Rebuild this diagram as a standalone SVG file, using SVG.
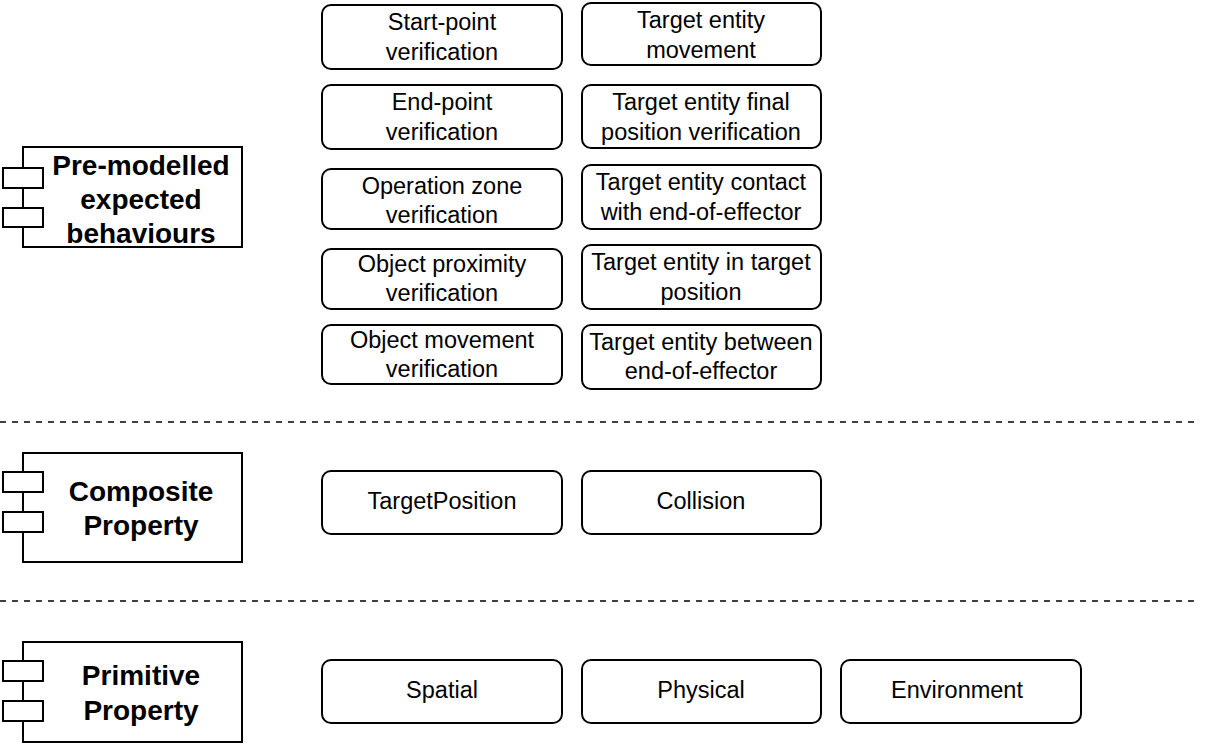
<svg xmlns="http://www.w3.org/2000/svg" width="1206" height="748" viewBox="0 0 1206 748">
<style>
.n{fill:#fff;stroke:#000;stroke-width:2}
.c{fill:#fff;stroke:#000;stroke-width:2}
.t{font-family:"Liberation Sans",Arial,sans-serif;font-size:23.5px;text-anchor:middle;fill:#000}
.b{font-family:"Liberation Sans",Arial,sans-serif;font-size:28px;font-weight:bold;text-anchor:middle;fill:#000}
.d{stroke:#000;stroke-width:1.5;stroke-dasharray:6 6;fill:none}
</style>
<rect width="1206" height="748" fill="#fff"/>
<g id="separators">
<line class="d" x1="0" y1="422" x2="1196" y2="422"/>
<line class="d" x1="0" y1="601" x2="1196" y2="601"/>
</g>
<g id="premodelled">
<rect class="c" x="23" y="147" width="219" height="100"/>
<rect class="c" x="3" y="168" width="40" height="20"/>
<rect class="c" x="3" y="208" width="40" height="19"/>
<text class="b" x="141" y="175">Pre-modelled</text>
<text class="b" x="141" y="209">expected</text>
<text class="b" x="141" y="243">behaviours</text>
</g>
<g id="composite">
<rect class="c" x="23" y="453" width="219" height="109"/>
<rect class="c" x="3" y="472" width="40" height="20"/>
<rect class="c" x="3" y="512" width="40" height="20"/>
<text class="b" x="141" y="501">Composite</text>
<text class="b" x="141" y="535">Property</text>
</g>
<g id="primitive">
<rect class="c" x="23" y="642" width="219" height="100"/>
<rect class="c" x="3" y="661" width="40" height="20"/>
<rect class="c" x="3" y="701" width="40" height="20"/>
<text class="b" x="141" y="685">Primitive</text>
<text class="b" x="141" y="720">Property</text>
</g>
<g id="n1"><rect class="n" x="322" y="5" width="240" height="64" rx="9"/><text class="t" x="442" y="30">Start-point</text><text class="t" x="442" y="60">verification</text></g>
<g id="n2"><rect class="n" x="582" y="3" width="239" height="62" rx="9"/><text class="t" x="701" y="28">Target entity</text><text class="t" x="701" y="58">movement</text></g>
<g id="n3"><rect class="n" x="322" y="85" width="240" height="64" rx="9"/><text class="t" x="442" y="110">End-point</text><text class="t" x="442" y="140">verification</text></g>
<g id="n4"><rect class="n" x="582" y="85" width="239" height="63" rx="9"/><text class="t" x="701" y="110">Target entity final</text><text class="t" x="701" y="140">position verification</text></g>
<g id="n5"><rect class="n" x="322" y="169" width="240" height="60" rx="9"/><text class="t" x="442" y="194">Operation zone</text><text class="t" x="442" y="223">verification</text></g>
<g id="n6"><rect class="n" x="582" y="165" width="239" height="64" rx="9"/><text class="t" x="701" y="190">Target entity contact</text><text class="t" x="701" y="220">with end-of-effector</text></g>
<g id="n7"><rect class="n" x="322" y="249" width="240" height="60" rx="9"/><text class="t" x="442" y="272">Object proximity</text><text class="t" x="442" y="301">verification</text></g>
<g id="n8"><rect class="n" x="582" y="245" width="239" height="64" rx="9"/><text class="t" x="701" y="270">Target entity in target</text><text class="t" x="701" y="300">position</text></g>
<g id="n9"><rect class="n" x="322" y="325" width="240" height="59" rx="9"/><text class="t" x="442" y="348">Object movement</text><text class="t" x="442" y="377">verification</text></g>
<g id="n10"><rect class="n" x="582" y="325" width="239" height="64" rx="9"/><text class="t" x="701" y="350">Target entity between</text><text class="t" x="701" y="379">end-of-effector</text></g>
<g id="n11"><rect class="n" x="322" y="471" width="240" height="63" rx="9"/><text class="t" x="442" y="509">TargetPosition</text></g>
<g id="n12"><rect class="n" x="582" y="471" width="239" height="63" rx="9"/><text class="t" x="701" y="509">Collision</text></g>
<g id="n13"><rect class="n" x="322" y="660" width="240" height="63" rx="9"/><text class="t" x="442" y="698">Spatial</text></g>
<g id="n14"><rect class="n" x="582" y="660" width="239" height="63" rx="9"/><text class="t" x="701" y="698">Physical</text></g>
<g id="n15"><rect class="n" x="841" y="660" width="240" height="63" rx="9"/><text class="t" x="957" y="698">Environment</text></g>
<g id="connectors"></g>
</svg>
